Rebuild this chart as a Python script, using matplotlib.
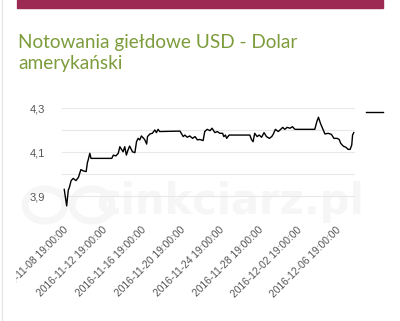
import matplotlib
matplotlib.use("Agg")
import matplotlib.pyplot as plt
import matplotlib.dates as mdates
import matplotlib.ticker as mticker
import pandas as pd

# USD/PLN kurs
times = [
    "2016-11-08 22:00", "2016-11-09 04:00", "2016-11-09 08:00", "2016-11-09 10:00",
    "2016-11-09 15:00", "2016-11-09 20:00", "2016-11-10 03:00", "2016-11-10 09:00",
    "2016-11-10 15:00", "2016-11-10 21:00", "2016-11-11 04:00", "2016-11-11 07:00",
    "2016-11-11 09:00", "2016-11-11 13:00", "2016-11-11 16:00", "2016-11-13 19:00",
    "2016-11-13 23:00", "2016-11-14 05:00", "2016-11-14 11:00", "2016-11-14 15:00",
    "2016-11-14 19:00", "2016-11-14 23:00", "2016-11-15 03:00", "2016-11-15 07:00",
    "2016-11-15 11:00", "2016-11-15 15:00", "2016-11-15 22:00", "2016-11-16 04:00",
    "2016-11-16 08:00", "2016-11-16 12:00", "2016-11-16 16:00", "2016-11-16 20:00",
    "2016-11-17 00:00", "2016-11-17 04:00", "2016-11-17 09:00", "2016-11-17 11:00",
    "2016-11-17 17:00", "2016-11-17 23:00", "2016-11-18 05:00", "2016-11-18 09:00",
    "2016-11-18 13:00", "2016-11-18 17:00", "2016-11-20 19:00", "2016-11-21 03:00",
    "2016-11-21 07:00", "2016-11-21 13:00", "2016-11-21 19:00", "2016-11-22 02:00",
    "2016-11-22 08:00", "2016-11-22 14:00", "2016-11-22 20:00", "2016-11-23 04:00",
    "2016-11-23 08:00", "2016-11-23 14:00", "2016-11-23 21:00", "2016-11-24 02:00",
    "2016-11-24 09:00", "2016-11-24 15:00", "2016-11-24 21:00", "2016-11-25 04:00",
    "2016-11-25 07:00", "2016-11-25 11:00", "2016-11-25 14:00", "2016-11-25 20:00",
    "2016-11-27 23:00", "2016-11-28 03:00", "2016-11-28 07:00", "2016-11-28 11:00",
    "2016-11-28 17:00", "2016-11-28 22:00", "2016-11-29 04:00", "2016-11-29 10:00",
    "2016-11-29 16:00", "2016-11-29 23:00", "2016-11-30 05:00", "2016-11-30 09:00",
    "2016-11-30 14:00", "2016-11-30 21:00", "2016-12-01 03:00", "2016-12-01 08:00",
    "2016-12-01 13:00", "2016-12-01 19:00", "2016-12-02 02:00", "2016-12-02 08:00",
    "2016-12-02 14:00", "2016-12-04 15:00", "2016-12-04 20:00", "2016-12-05 00:00",
    "2016-12-05 05:00", "2016-12-05 10:00", "2016-12-05 16:00", "2016-12-06 00:00",
    "2016-12-06 08:00", "2016-12-06 14:00", "2016-12-06 22:00", "2016-12-07 03:00",
    "2016-12-07 07:00", "2016-12-07 13:00", "2016-12-07 20:00", "2016-12-08 01:00",
    "2016-12-08 06:00", "2016-12-08 10:00", "2016-12-08 12:00", "2016-12-08 15:00",
]
values = [
    3.930, 3.855, 3.927, 3.935, 3.970, 3.980, 3.970, 3.985,
    4.020, 4.014, 4.011, 4.051, 4.064, 4.094, 4.071, 4.071,
    4.086, 4.082, 4.094, 4.124, 4.112, 4.101, 4.124, 4.086,
    4.109, 4.127, 4.101, 4.097, 4.147, 4.162, 4.155, 4.173,
    4.165, 4.157, 4.136, 4.170, 4.182, 4.185, 4.200, 4.188,
    4.203, 4.193, 4.195, 4.170, 4.177, 4.167, 4.173, 4.162,
    4.170, 4.155, 4.157, 4.152, 4.193, 4.203, 4.197, 4.208,
    4.188, 4.193, 4.185, 4.185, 4.170, 4.177, 4.162, 4.177,
    4.177, 4.157, 4.147, 4.185, 4.170, 4.177, 4.167, 4.188,
    4.170, 4.162, 4.170, 4.182, 4.203, 4.193, 4.203, 4.212,
    4.203, 4.212, 4.208, 4.215, 4.203, 4.203, 4.238, 4.258,
    4.230, 4.208, 4.182, 4.185, 4.180, 4.162, 4.162, 4.157,
    4.139, 4.127, 4.121, 4.112, 4.112, 4.132, 4.177, 4.188,
]
x_ticks = pd.date_range("2016-11-08 19:00", periods=8, freq="4D")
y_labeled = [3.9, 4.1, 4.3]
y_grid = [3.8, 4.0, 4.2]
title_lines = ["Notowania giełdowe USD - Dolar", "amerykański"]

t = pd.to_datetime(times)

fig = plt.figure(figsize=(4, 3.21), dpi=100)
fig.patch.set_facecolor("white")

# bordowy pasek u gory
fig.patches.append(plt.Rectangle((17 / 400, 1 - 8 / 321), 366 / 400, 8 / 321,
                                 transform=fig.transFigure, color="#9c2a52", zorder=0))

fig.text(18 / 400, 1 - 48 / 321, title_lines[0], fontsize=13.7, color="#7d9c3c",
         family="Lato", va="baseline", ha="left")
fig.text(18 / 400, 1 - 69 / 321, title_lines[1], fontsize=13.7, color="#7d9c3c",
         family="Lato", va="baseline", ha="left")

ax = fig.add_axes([62 / 400, 1 - 218 / 321, 293 / 400, 110 / 321])
ax.set_facecolor("none")
# znak wodny pod linia
wm = "#f6f6f6"
ax.text(0.91, 1 - 214 / 321, "cinkciarz.pl", fontsize=30, fontweight="bold",
        color=wm, ha="right", va="baseline", transform=fig.transFigure, zorder=0)
for cx in (45, 92):
    ax.add_patch(plt.Circle((cx / 400, 1 - 205 / 321), 20 / 400, transform=fig.transFigure,
                            fill=False, ec=wm, lw=5, zorder=0, clip_on=False))
line, = ax.plot(t, values, color="black", lw=1.0, zorder=3)

ax.set_ylim(3.8, 4.3)
ax.set_xlim(pd.Timestamp("2016-11-08 16:30"), pd.Timestamp("2016-12-08 18:00"))
ax.yaxis.set_major_locator(mticker.FixedLocator(y_labeled))
ax.yaxis.set_minor_locator(mticker.FixedLocator(y_grid))
ax.yaxis.set_major_formatter(mticker.FuncFormatter(lambda v, p: f"{v:.1f}".replace(".", ",")))
ax.grid(axis="y", which="both", color="#e8e8e8", lw=0.8, zorder=1)
ax.set_axisbelow(True)
ax.set_xticks(x_ticks)
ax.xaxis.set_major_formatter(mdates.DateFormatter("%Y-%m-%d %H:%M:%S"))
for s in ax.spines.values():
    s.set_visible(False)
ax.tick_params(axis="both", which="both", length=0)
ax.tick_params(axis="y", pad=12, labelsize=8, labelcolor="#555555")
ax.tick_params(axis="x", pad=5, labelsize=7.4, labelcolor="#555555")
for lab in ax.get_xticklabels():
    lab.set_rotation(45)
    lab.set_ha("right")
    lab.set_rotation_mode("anchor")
    lab.set_family("Liberation Sans")
for lab in ax.get_yticklabels():
    lab.set_family("Liberation Sans")

ax.legend([line], [""], loc="upper left", bbox_to_anchor=(366 / 400, 1 - 107.5 / 321),
          bbox_transform=fig.transFigure, frameon=False, borderpad=0,
          borderaxespad=0, handlelength=1.5, fontsize=8)

# lewa krawedz kontenera ucina etykiete
fig.add_artist(plt.Rectangle((0, 0), 15 / 400, 1, transform=fig.transFigure,
                             color="white", zorder=10))
fig.add_artist(plt.Line2D([1.5 / 400, 1.5 / 400], [0, 1], transform=fig.transFigure,
                          color="#e6e6e6", lw=1, zorder=11))

fig.savefig("out.png", dpi=100)
